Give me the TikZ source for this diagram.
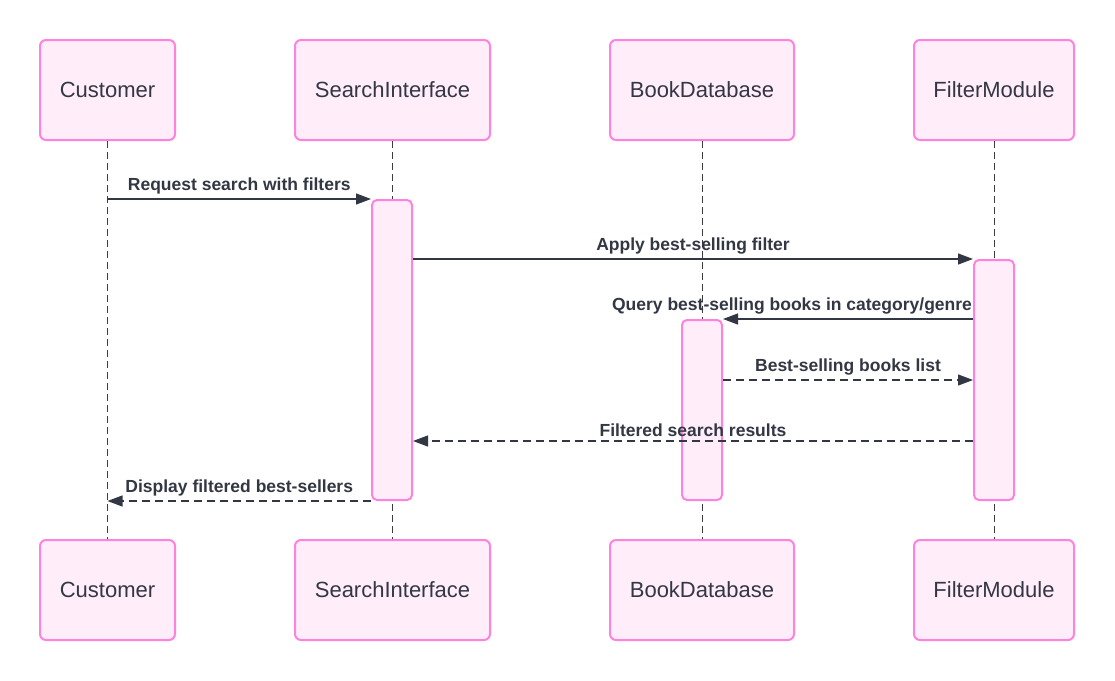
\documentclass[tikz,border=0pt]{standalone}
\usepackage{fontspec}
\setmainfont{Liberation Sans}
\usetikzlibrary{arrows.meta, positioning}
\definecolor{actorfill}{RGB}{255,238,250}
\definecolor{actorline}{RGB}{255,130,222}
\definecolor{inkdark}{RGB}{51,55,68}
\definecolor{lifegray}{RGB}{60,60,64}
\tikzset{
  actor/.style={rectangle, rounded corners=6pt, draw=actorline, line width=2pt,
                fill=actorfill, minimum height=100pt, text=inkdark,
                font=\fontsize{22}{26}\selectfont},
  activation/.style={rectangle, rounded corners=5pt, draw=actorline, line width=2pt,
                     fill=actorfill, minimum width=40pt},
  lifeline/.style={draw=lifegray, line width=1pt, dash pattern=on 7pt off 4pt},
  msg/.style={-{Triangle[length=15pt, width=11pt]}, line width=1.2pt, color=inkdark},
  reply/.style={msg, dash pattern=on 8pt off 5pt},
  msglabel/.style={above=2pt, inner sep=2pt, text=inkdark,
                   font=\fontsize{17.5}{21}\selectfont\bfseries},
}

\begin{document}
\begin{tikzpicture}[x=1pt, y=-1pt]
        \path[use as bounding box, fill=white] (0,0) rectangle (1115,680);

        % participants, top row
        \node[actor, minimum width=135pt] (cusT) at (107.5,90) {Customer};
        \node[actor, minimum width=195pt] (siT) at (392.5,90) {SearchInterface};
        \node[actor, minimum width=184pt] (bdT) at (702,90) {BookDatabase};
        \node[actor, minimum width=160pt] (fmT) at (994,90) {FilterModule};

        % participants, bottom row
        \node[actor, minimum width=135pt, below=398pt of cusT] (cusB) {Customer};
        \node[actor, minimum width=195pt, below=398pt of siT] (siB) {SearchInterface};
        \node[actor, minimum width=184pt, below=398pt of bdT] (bdB) {BookDatabase};
        \node[actor, minimum width=160pt, below=398pt of fmT] (fmB) {FilterModule};

        \draw[lifeline] (cusT.south) -- (cusB.north);
        \draw[lifeline] (siT.south) -- (siB.north);
        \draw[lifeline] (bdT.south) -- (bdB.north);
        \draw[lifeline] (fmT.south) -- (fmB.north);

        % activations
        \node[activation, minimum height=300pt] (siAct) at (392,350) {};
        \node[activation, minimum height=180pt] (bdAct) at (702,410) {};
        \node[activation, minimum height=240pt] (fmAct) at (994,380) {};

        \draw[msg] (cusT.south |- siAct.north west) -- (siAct.north west)
          node[msglabel, midway] {Request search with filters};
        \draw[msg] (siAct.east |- fmAct.north west) -- (fmAct.north west)
          node[msglabel, midway] {Apply best-selling filter};
        \draw[msg] (fmAct.west |- bdAct.north east) -- (bdAct.north east)
          node[msglabel, midway, xshift=-56pt] {Query best-selling books in category/genre};
        \draw[reply] (bdAct.east |- fmAct.west) -- (fmAct.west)
          node[msglabel, midway] {Best-selling books list};
        \coordinate (fmRet) at ([yshift=60pt]fmAct.south west);
        \draw[reply] (fmRet) -- (siAct.east |- fmRet)
          node[msglabel, midway] {Filtered search results};
        \draw[reply] (siAct.south west) -- (cusT.south |- siAct.south west)
          node[msglabel, midway] {Display filtered best-sellers};
      \end{tikzpicture}
\end{document}
